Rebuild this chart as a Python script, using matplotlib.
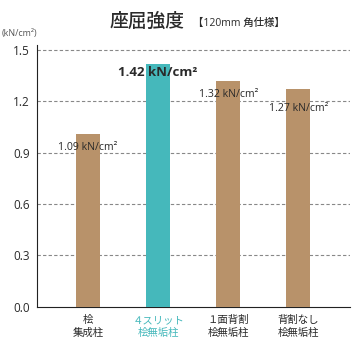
import matplotlib
matplotlib.use("Agg")
import matplotlib.pyplot as plt

plt.rcParams['font.family'] = ['Open Sans', 'Noto Sans CJK JP', 'DejaVu Sans']

# データ
categories = ["桧\n集成柱", "４スリット\n桧無垢柱", "１面背割\n桧無垢柱", "背割なし\n桧無垢柱"]
heights = [1.01, 1.42, 1.32, 1.27]
value_labels = ["1.09 kN/cm²", "1.42 kN/cm²", "1.32 kN/cm²", "1.27 kN/cm²"]
label_y = [0.93, 1.37, 1.24, 1.16]
yticks = [0.0, 0.3, 0.6, 0.9, 1.2, 1.5]

tan = "#b8926a"
teal = "#45b8bb"
colors = [tan, teal, tan, tan]
txt = "#2a2a2a"

fig = plt.figure(figsize=(3.64, 3.50), dpi=100)
ax = fig.add_axes([0.1016, 0.1237, 0.86, 0.748])

x = list(range(len(categories)))
ax.bar(x, heights, width=0.34, color=colors, zorder=3)

ax.set_xlim(-0.73, 3.74)
ax.set_ylim(0, 1.53)
ax.set_yticks(yticks)
ax.set_yticklabels([f"{v:.1f}" for v in yticks], fontsize=8.5, color=txt)
for v in yticks[1:]:
    ax.axhline(v, color="#888888", lw=0.8, ls=(0, (3, 2)), zorder=1)

ax.set_xticks(x)
ax.set_xticklabels(categories, fontsize=7.5, linespacing=1.25)
for t, c in zip(ax.get_xticklabels(), colors):
    t.set_color(teal if c == teal else txt)
ax.tick_params(axis="y", length=0, pad=5)
ax.tick_params(axis="x", length=0, pad=6)

for s in ["top", "right"]:
    ax.spines[s].set_visible(False)
ax.spines["left"].set_color("#222222")
ax.spines["bottom"].set_color("#222222")

for i, (lab, ly) in enumerate(zip(value_labels, label_y)):
    if i == 1:
        ax.text(i, ly, lab, ha="center", va="center", fontsize=9.5,
                fontweight="bold", color=txt, zorder=4)
    else:
        ax.text(i, ly, lab, ha="center", va="center", fontsize=7.6,
                fontweight="medium", color=txt, zorder=4)

fig.text(0.302, 0.937, "座屈強度", fontsize=13.5, fontweight="medium",
         color=txt, va="center")
fig.text(0.53, 0.933, "【120mm 角仕様】", fontsize=7.5, fontweight="medium",
         color=txt, va="center")
fig.text(0.005, 0.903, "(kN/cm²)", fontsize=6.5, color="#555555", va="center")

fig.savefig("out.png", dpi=100)
